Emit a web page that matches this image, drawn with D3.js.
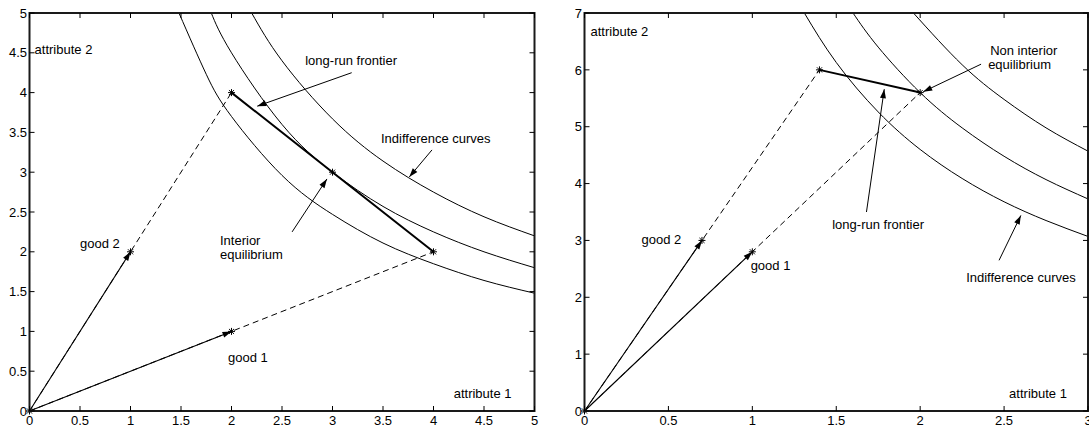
<!DOCTYPE html>
<html>
<head>
<meta charset="utf-8">
<script src="https://cdn.jsdelivr.net/npm/d3@7"></script>
<style>
    body { margin: 0; background: #fff; }
    text { font-family: "Liberation Sans", Arial, sans-serif; font-size: 13px; fill: #000; }
</style>
</head>
<body>
<div id="chart"></div>
<script>
// left panel: interior equilibrium
const leftXTicks = [0, 0.5, 1, 1.5, 2, 2.5, 3, 3.5, 4, 4.5, 5]
const leftYTicks = [0, 0.5, 1, 1.5, 2, 2.5, 3, 3.5, 4, 4.5, 5]
const leftGoods = [[1, 2], [2, 1]]
const leftFrontier = [[2, 4], [3, 3], [4, 2]]
const leftCurveLow = [[1.48, 5], [1.75, 4.23], [2, 3.7], [2.5, 2.96], [3, 2.47], [3.5, 2.11], [4, 1.85], [4.5, 1.64], [5, 1.48]]
const leftCurveMid = [[1.8, 5], [2, 4.5], [2.5, 3.6], [3, 3], [3.5, 2.57], [4, 2.25], [4.5, 2], [5, 1.8]]
const leftCurveHigh = [[2.2, 5], [2.5, 4.4], [3, 3.67], [3.5, 3.14], [4, 2.75], [4.5, 2.44], [5, 2.2]]

// right panel: non interior equilibrium
const rightXTicks = [0, 0.5, 1, 1.5, 2, 2.5, 3]
const rightYTicks = [0, 1, 2, 3, 4, 5, 6, 7]
const rightGoods = [[0.7, 3], [1, 2.8]]
const rightFrontier = [[1.4, 6], [2, 5.6]]
const rightCurveLow = [[1.31, 7], [1.5, 6.13], [1.75, 5.26], [2, 4.6], [2.25, 4.09], [2.5, 3.68], [2.75, 3.35], [3, 3.07]]
const rightCurveMid = [[1.6, 7], [1.75, 6.4], [2, 5.6], [2.25, 4.98], [2.5, 4.48], [2.75, 4.07], [3, 3.73]]
const rightCurveHigh = [[1.96, 7], [2.25, 6.09], [2.5, 5.48], [2.75, 4.98], [3, 4.57]]

const svg = d3.select('#chart').append('svg')
    .attr('width', 1089).attr('height', 429)

const defs = svg.append('defs')
defs.append('marker')
    .attr('id', 'head')
    .attr('markerUnits', 'userSpaceOnUse')
    .attr('viewBox', '-10 -4 10 8')
    .attr('refX', 0).attr('refY', 0)
    .attr('markerWidth', 10).attr('markerHeight', 8)
    .attr('orient', 'auto')
    .append('path').attr('d', 'M0,0L-9,-3L-9,3Z').attr('fill', '#000')

drawPanel({
    left: 29.5, right: 534.5, top: 13, bottom: 411,
    xDomain: [0, 5], yDomain: [0, 5],
    xTicks: leftXTicks, yTicks: leftYTicks,
    goods: leftGoods, frontier: leftFrontier,
    curves: [leftCurveLow, leftCurveMid, leftCurveHigh],
    labels: [
        { t: 'attribute 2', x: 0.05, y: 4.55 },
        { t: 'attribute 1', x: 4.2, y: 0.226 },
        { t: 'good 1', x: 1.965, y: 0.68 },
        { t: 'good 2', x: 0.5, y: 2.11 },
        { t: 'long-run frontier', x: 2.73, y: 4.41 },
        { t: 'Indifference curves', x: 3.48, y: 3.43 },
        { t: 'Interior', x: 1.886, y: 2.15 },
        { t: 'equilibrium', x: 1.886, y: 1.97 }
    ],
    notes: [
        [[3.19, 4.25], [2.255, 3.83]],
        [[3.985, 3.28], [3.76, 2.94]],
        [[2.6, 2.25], [2.945, 2.915]]
    ]
})

drawPanel({
    left: 584.5, right: 1088, top: 13, bottom: 411,
    xDomain: [0, 3], yDomain: [0, 7],
    xTicks: rightXTicks, yTicks: rightYTicks,
    goods: rightGoods, frontier: rightFrontier,
    curves: [rightCurveLow, rightCurveMid, rightCurveHigh],
    labels: [
        { t: 'attribute 2', x: 0.036, y: 6.67 },
        { t: 'attribute 1', x: 2.53, y: 0.316 },
        { t: 'good 2', x: 0.34, y: 3.02 },
        { t: 'good 1', x: 0.99, y: 2.57 },
        { t: 'long-run frontier', x: 1.476, y: 3.29 },
        { t: 'Non interior', x: 2.417, y: 6.34 },
        { t: 'equilibrium', x: 2.405, y: 6.1 },
        { t: 'Indifference curves', x: 2.274, y: 2.355 }
    ],
    notes: [
        [[1.68, 3.5], [1.786, 5.66]],
        [[2.363, 6.1], [2.018, 5.615]],
        [[2.47, 2.65], [2.6, 3.44]]
    ]
})

function drawPanel(cfg) {
    const x = d3.scaleLinear().domain(cfg.xDomain).range([cfg.left, cfg.right])
    const y = d3.scaleLinear().domain(cfg.yDomain).range([cfg.bottom, cfg.top])
    const g = svg.append('g')
    const line = d3.line().x(d => x(d[0])).y(d => y(d[1]))
    const smooth = d3.line().x(d => x(d[0])).y(d => y(d[1])).curve(d3.curveNatural)

    // indifference curves
    g.selectAll('.curve').data(cfg.curves).join('path')
        .attr('class', 'curve')
        .attr('d', smooth)
        .attr('fill', 'none').attr('stroke', '#000').attr('stroke-width', 1)

    // dashed rays out to the long-run points
    g.selectAll('.ray').data(cfg.goods).join('path')
        .attr('class', 'ray')
        .attr('d', (d, i) => line([[0, 0], cfg.frontier[i === 0 ? 0 : cfg.frontier.length - 1]]))
        .attr('fill', 'none').attr('stroke', '#000')
        .attr('stroke-dasharray', '6,4')

    // goods vectors
    g.selectAll('.good').data(cfg.goods).join('path')
        .attr('class', 'good')
        .attr('d', d => line([[0, 0], d]))
        .attr('fill', 'none').attr('stroke', '#000').attr('stroke-width', 1.1)
        .attr('marker-end', 'url(#head)')

    // frontier
    g.append('path')
        .attr('d', line(cfg.frontier))
        .attr('fill', 'none').attr('stroke', '#000').attr('stroke-width', 2)

    // asterisk markers
    const stars = [[0, 0], ...cfg.goods, ...cfg.frontier]
    const r = 3.5, q = r * 0.72
    g.selectAll('.star').data(stars).join('path')
        .attr('class', 'star')
        .attr('transform', d => `translate(${x(d[0])},${y(d[1])})`)
        .attr('d', `M${-r},0H${r}M0,${-r}V${r}M${-q},${-q}L${q},${q}M${-q},${q}L${q},${-q}`)
        .attr('stroke', '#000').attr('stroke-width', 1)

    // annotation arrows
    g.selectAll('.note').data(cfg.notes).join('path')
        .attr('class', 'note')
        .attr('d', line)
        .attr('fill', 'none').attr('stroke', '#000').attr('stroke-width', 1)
        .attr('marker-end', 'url(#head)')

    g.selectAll('.label').data(cfg.labels).join('text')
        .attr('class', 'label')
        .attr('x', d => x(d.x)).attr('y', d => y(d.y))
        .attr('dy', '0.36em')
        .text(d => d.t)

    // box and inward ticks
    const axes = svg.append('g')
    axes.append('rect')
        .attr('x', cfg.left).attr('y', cfg.top)
        .attr('width', cfg.right - cfg.left).attr('height', cfg.bottom - cfg.top)
        .attr('fill', 'none').attr('stroke', '#1a1a1a').attr('stroke-width', 2)
    const tl = 5
    axes.selectAll('.xt').data(cfg.xTicks).join('path')
        .attr('d', d => `M${x(d)},${cfg.bottom}v${-tl}M${x(d)},${cfg.top}v${tl}`)
        .attr('stroke', '#000')
    axes.selectAll('.yt').data(cfg.yTicks).join('path')
        .attr('d', d => `M${cfg.left},${y(d)}h${tl}M${cfg.right},${y(d)}h${-tl}`)
        .attr('stroke', '#000')
    axes.selectAll('.xl').data(cfg.xTicks).join('text')
        .attr('x', d => x(d)).attr('y', cfg.bottom + 14)
        .attr('text-anchor', 'middle')
        .text(d => d)
    axes.selectAll('.yl').data(cfg.yTicks).join('text')
        .attr('x', cfg.left - 2.5).attr('y', d => y(d))
        .attr('dy', '0.36em')
        .attr('text-anchor', 'end')
        .text(d => d)
}
</script>
</body>
</html>
